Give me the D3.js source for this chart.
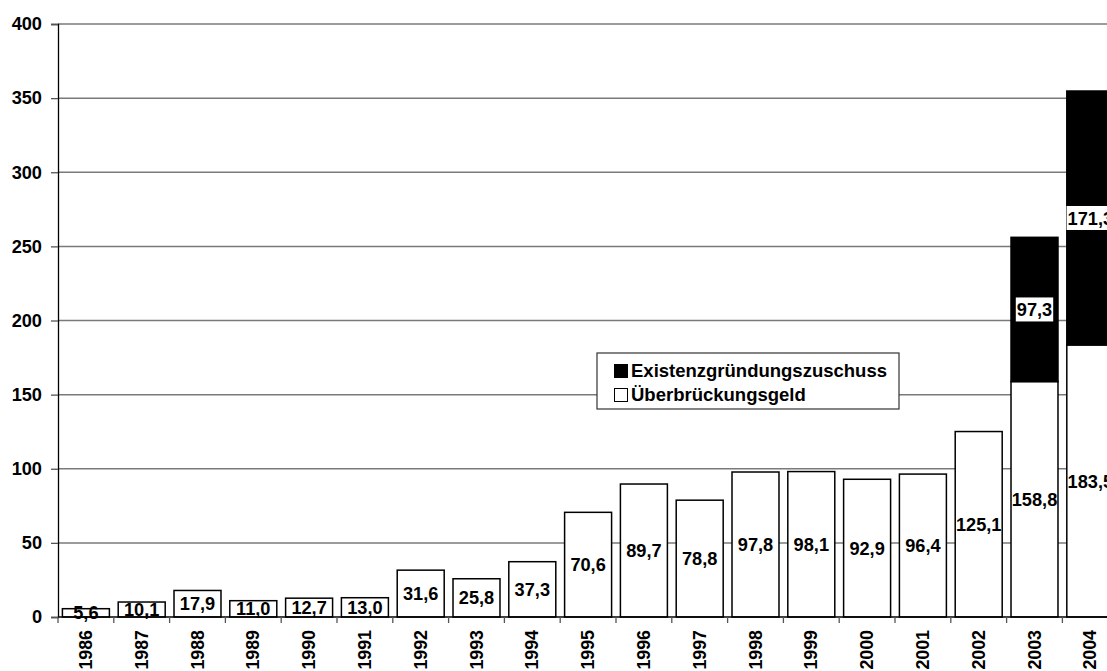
<!DOCTYPE html>
<html>
<head>
<meta charset="utf-8">
<script src="https://cdn.jsdelivr.net/npm/d3@7"></script>
<style>
  html, body { margin: 0; padding: 0; background: #fff; overflow: hidden; }
  svg { display: block; font-family: "Liberation Sans", Arial, sans-serif; font-weight: bold; }
</style>
</head>
<body>
<svg id="chart" width="1107" height="671"></svg>
<script>
// Jahre und Werte (in Tsd.)
const years = ["1986","1987","1988","1989","1990","1991","1992","1993","1994","1995","1996","1997","1998","1999","2000","2001","2002","2003","2004"];
const ueberbrueckungsgeld = [5.6,10.1,17.9,11.0,12.7,13.0,31.6,25.8,37.3,70.6,89.7,78.8,97.8,98.1,92.9,96.4,125.1,158.8,183.5];
const existenzgruendung = [0,0,0,0,0,0,0,0,0,0,0,0,0,0,0,0,0,97.3,171.3];
const yTicks = [0,50,100,150,200,250,300,350,400];
const seriesNames = ["Existenzgründungszuschuss","Überbrückungsgeld"];

const fmt = v => v.toFixed(1).replace(".", ",");

const svg = d3.select("#chart");
const left = 58, zeroY = 617, topY = 24, step = 55.8;
const fs = 18.2;

const x = d3.scaleBand().domain(years)
  .range([left, left + step * years.length])
  .paddingInner(0.158).paddingOuter(0.079);
const y = d3.scaleLinear().domain([0, 400]).range([zeroY, topY]);

// horizontal gridlines
svg.append("g").selectAll("line").data(yTicks.filter(t => t > 0)).join("line")
  .attr("x1", left).attr("x2", 1107)
  .attr("y1", d => y(d)).attr("y2", d => y(d))
  .attr("stroke", "#7a7a7a").attr("stroke-width", 1.5);

// y axis
const yAxis = svg.append("g").attr("transform", `translate(${left},0)`)
  .call(d3.axisLeft(y).tickValues(yTicks).tickSize(7).tickPadding(9).tickFormat(d3.format("d")));
yAxis.select(".domain").attr("stroke", "#000").attr("stroke-width", 1.3);
yAxis.selectAll(".tick line").attr("stroke", "#555").attr("stroke-width", 1.3);
yAxis.selectAll(".tick text").attr("font-size", fs).attr("font-weight", "bold")
  .attr("font-family", "Liberation Sans, Arial, sans-serif").attr("fill", "#000");

// stacked bars
const stacked = years.map((yr, i) => ({ yr, a: ueberbrueckungsgeld[i], b: existenzgruendung[i] }));
const bars = svg.append("g");
bars.selectAll("rect.base").data(stacked).join("rect").attr("class", "base")
  .attr("x", d => x(d.yr)).attr("width", x.bandwidth())
  .attr("y", d => y(d.a)).attr("height", d => y(0) - y(d.a))
  .attr("fill", "#fff").attr("stroke", "#000").attr("stroke-width", 1.5);
bars.selectAll("rect.top").data(stacked.filter(d => d.b > 0)).join("rect").attr("class", "top")
  .attr("x", d => x(d.yr)).attr("width", x.bandwidth())
  .attr("y", d => y(d.a + d.b)).attr("height", d => y(d.a) - y(d.a + d.b))
  .attr("fill", "#000").attr("stroke", "#000").attr("stroke-width", 1.5);

// x axis baseline and ticks
const xAxisG = svg.append("g");
xAxisG.append("line").attr("x1", left).attr("x2", 1107).attr("y1", zeroY).attr("y2", zeroY)
  .attr("stroke", "#000").attr("stroke-width", 1.3);
xAxisG.selectAll("line.tk").data(d3.range(years.length + 1)).join("line").attr("class", "tk")
  .attr("x1", i => left + i * x.step()).attr("x2", i => left + i * x.step())
  .attr("y1", zeroY).attr("y2", zeroY + 6)
  .attr("stroke", "#555").attr("stroke-width", 1.3);
xAxisG.selectAll("text").data(years).join("text")
  .attr("transform", d => `translate(${x(d) + x.bandwidth() / 2 + 6},${zeroY + 13}) rotate(-90)`)
  .attr("text-anchor", "end").attr("font-size", 17.8).text(d => d);

// value labels
const labels = svg.append("g").attr("font-size", fs);
labels.selectAll("text.a").data(stacked).join("text").attr("class", "a")
  .attr("x", d => x(d.yr) + x.bandwidth() / 2)
  .attr("y", d => (y(0) + y(d.a)) / 2)
  .attr("dy", "0.36em").attr("text-anchor", "middle").text(d => fmt(d.a));

const topLabels = labels.selectAll("g.b").data(stacked.filter(d => d.b > 0)).join("g").attr("class", "b")
  .attr("transform", d => `translate(${x(d.yr) + x.bandwidth() / 2},${(y(d.a) + y(d.a + d.b)) / 2})`);
topLabels.append("text").attr("dy", "0.36em").attr("text-anchor", "middle").text(d => fmt(d.b))
  .each(function () {
    const bb = this.getBBox();
    d3.select(this.parentNode).insert("rect", "text")
      .attr("x", bb.x - 1).attr("y", -12).attr("width", bb.width + 2).attr("height", 24)
      .attr("fill", "#fff");
  });

// legend
const lg = svg.append("g").attr("transform", "translate(597,353)");
lg.append("rect").attr("width", 302).attr("height", 56)
  .attr("fill", "#fff").attr("stroke", "#333").attr("stroke-width", 1.2);
const fills = ["#000", "#fff"];
seriesNames.forEach((name, i) => {
  const row = lg.append("g").attr("transform", `translate(0,${10 + i * 24})`);
  row.append("rect").attr("x", 17.5).attr("y", 1.5).attr("width", 13).attr("height", 13)
    .attr("fill", fills[i]).attr("stroke", "#000").attr("stroke-width", 1);
  row.append("text").attr("x", 34).attr("y", 14).attr("font-size", 18.5).text(name);
});
</script>
</body>
</html>
